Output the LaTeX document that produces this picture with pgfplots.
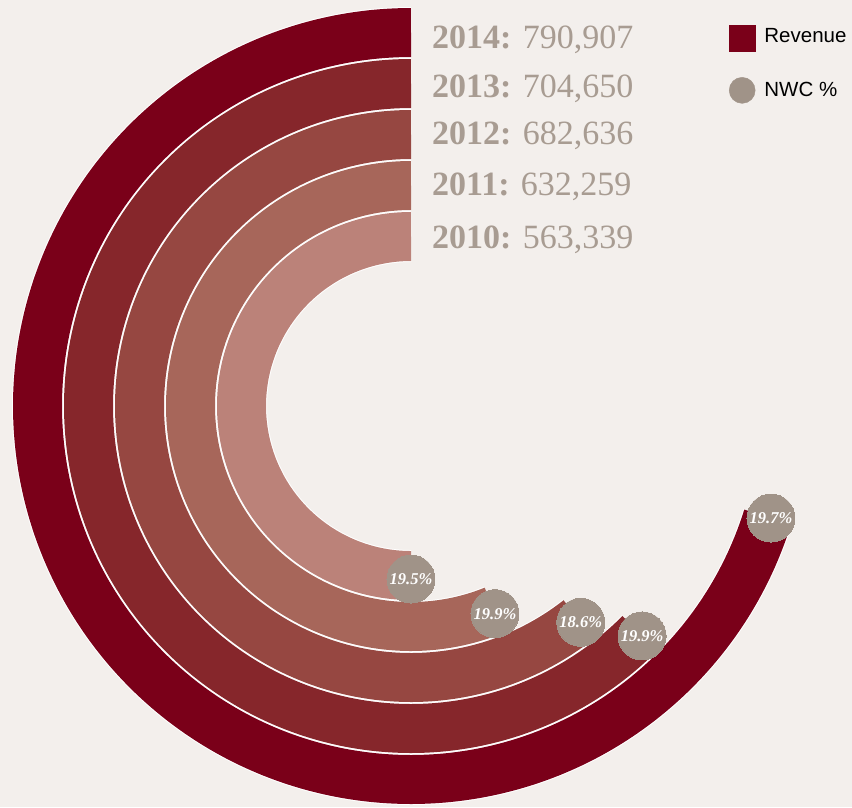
\documentclass[border=0pt]{standalone}
\usepackage{pgfplots}
\pgfplotsset{compat=1.18}
\usepgfplotslibrary{polar}
\usepackage{pgfplotstable}
\usepackage{fontspec}
\setmainfont{Liberation Serif}
\newfontfamily\sansf{Liberation Sans}
\definecolor{bg}{HTML}{F3EFEC}
\definecolor{cY14}{HTML}{7A0019}
\definecolor{cY13}{HTML}{86262B}
\definecolor{cY12}{HTML}{964741}
\definecolor{cY11}{HTML}{A7665A}
\definecolor{cY10}{HTML}{BB8279}
\definecolor{nwcgray}{HTML}{A09388}
\definecolor{lbl}{HTML}{A89C92}

% year, revenue, NWC %, ring mid radius
\pgfplotstableread{
year rev nwc r
2010 563339 19.5 169.5
2011 632259 19.9 220.5
2012 682636 18.6 271.5
2013 704650 19.9 322.5
2014 790907 19.7 373.5
}\revtable
\newcommand\fullturn{1126678}
\pgfplotstablegetelem{0}{rev}\of\revtable \edef\angA{\fpeval{90+\pgfplotsretval*360/\fullturn}}
\pgfplotstablegetelem{1}{rev}\of\revtable \edef\angB{\fpeval{90+\pgfplotsretval*360/\fullturn}}
\pgfplotstablegetelem{2}{rev}\of\revtable \edef\angC{\fpeval{90+\pgfplotsretval*360/\fullturn}}
\pgfplotstablegetelem{3}{rev}\of\revtable \edef\angD{\fpeval{90+\pgfplotsretval*360/\fullturn}}
\pgfplotstablegetelem{4}{rev}\of\revtable \edef\angE{\fpeval{90+\pgfplotsretval*360/\fullturn}}

\begin{document}
\begin{tikzpicture}[x=1pt,y=1pt]
\path[use as bounding box] (0,0) rectangle (852,-807);
\fill[bg] (0,0) rectangle (852,-807);
\begin{polaraxis}[
  at={(411,-406)}, anchor=center,
  width=798pt, height=798pt, scale only axis,
  xmin=0, xmax=360, ymin=0, ymax=399,
  hide axis, clip=false,
  legend style={draw=none, fill=none, inner sep=0pt, outer sep=0pt,
    at={(axis description cs:0.8985,0.9774)}, anchor=north west,
    nodes={inner sep=0pt, outer sep=0pt},
    font=\sansf\fontsize{20.5}{20.5}\selectfont,
    row sep=25.7pt,
    /tikz/every odd column/.append style={column sep=9pt}},
  legend cell align=left,
]
\addplot[forget plot, white, line width=51pt, domain=90:\angA, samples=300] {169.5};
\addplot[forget plot, cY10, line width=49pt, domain=90:\angA, samples=300] {169.5};
\addplot[forget plot, white, line width=51pt, domain=90:\angB, samples=300] {220.5};
\addplot[forget plot, cY11, line width=49pt, domain=90:\angB, samples=300] {220.5};
\addplot[forget plot, white, line width=51pt, domain=90:\angC, samples=300] {271.5};
\addplot[forget plot, cY12, line width=49pt, domain=90:\angC, samples=300] {271.5};
\addplot[forget plot, white, line width=51pt, domain=90:\angD, samples=300] {322.5};
\addplot[forget plot, cY13, line width=49pt, domain=90:\angD, samples=300] {322.5};
\addplot[forget plot, white, line width=51pt, domain=90:\angE, samples=300] {373.5};
\addplot[forget plot, cY14, line width=49pt, domain=90:\angE, samples=300] {373.5};
\addplot[forget plot, color=nwcgray, only marks, mark=*, mark size=24pt,
  mark options={fill=nwcgray, draw=nwcgray, line width=0pt},
  point meta=explicit symbolic,
  nodes near coords={\pgfplotspointmeta\%},
  every node near coord/.append style={anchor=center, text=white,
    font=\bfseries\itshape\fontsize{16.5}{16.5}\selectfont}]
  table[x expr={90+\thisrow{rev}*360/1126678}, y expr={\thisrow{r}+3.5}, meta=nwc] {\revtable};
\addlegendimage{legend image code/.code={\fill[cY14] (0pt,-15.3pt) rectangle (26pt,10.7pt);}}
\addlegendentry{Revenue}
\addlegendimage{legend image code/.code={\fill[nwcgray] (13pt,0pt) circle (13pt);}}
\addlegendentry{NWC \%}
\end{polaraxis}
\begin{scope}[every node/.style={anchor=base west, text=lbl, inner sep=0pt, font=\fontsize{34}{34}\selectfont}]
\node at (432,-48.3) {\textbf{2014:} 790,907};
\node at (432,-97.3) {\textbf{2013:} 704,650};
\node at (432,-144) {\textbf{2012:} 682,636};
\node at (432,-195) {\textbf{2011:} 632,259};
\node at (432,-248.3) {\textbf{2010:} 563,339};
\end{scope}
\end{tikzpicture}
\end{document}
